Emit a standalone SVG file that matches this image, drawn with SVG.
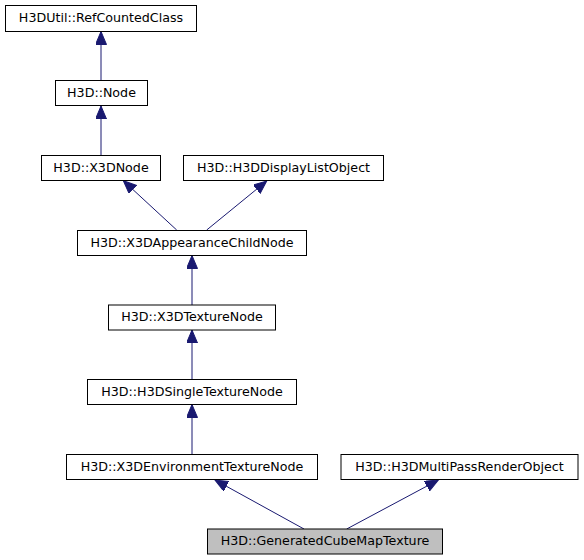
<svg xmlns="http://www.w3.org/2000/svg" width="584" height="560" viewBox="0 0 584 560">
<style>
.box{fill:#ffffff;stroke:#000000;stroke-width:1}
.cur{fill:#bfbfbf;stroke:#000000;stroke-width:1}
.lbl{font-family:"DejaVu Sans",sans-serif;font-size:12.67px;fill:#000000;text-anchor:middle}
.edge{stroke:#191970;stroke-width:1;fill:none}
</style>
<defs>
<marker id="ah" markerUnits="userSpaceOnUse" markerWidth="14" markerHeight="12" refX="13" refY="5.5" orient="auto">
<path d="M0,0 L13,5.5 L0,11 Z" fill="#191970" stroke="#191970" stroke-width="1"/>
</marker>
</defs>
<rect width="584" height="560" fill="#ffffff"/>
<g id="connectors">
<line class="edge" x1="101" y1="80.5" x2="101" y2="31.5" marker-end="url(#ah)"/>
<line class="edge" x1="101" y1="155.5" x2="101" y2="106" marker-end="url(#ah)"/>
<line class="edge" x1="176.7" y1="230" x2="123.3" y2="180.7" marker-end="url(#ah)"/>
<line class="edge" x1="206.7" y1="230" x2="266.7" y2="181" marker-end="url(#ah)"/>
<line class="edge" x1="192" y1="305" x2="192" y2="255.5" marker-end="url(#ah)"/>
<line class="edge" x1="192" y1="379.5" x2="192" y2="330" marker-end="url(#ah)"/>
<line class="edge" x1="192" y1="454.5" x2="192" y2="404.5" marker-end="url(#ah)"/>
<line class="edge" x1="304" y1="529" x2="215" y2="480" marker-end="url(#ah)"/>
<line class="edge" x1="346.7" y1="529" x2="438.3" y2="480" marker-end="url(#ah)"/>
</g>
<g id="n_refcounted">
<rect class="box" x="5.5" y="5.5" width="191" height="26"/>
<text class="lbl" x="101" y="22">H3DUtil::RefCountedClass</text>
</g>
<g id="n_node">
<rect class="box" x="55.5" y="80.5" width="92" height="25"/>
<text class="lbl" x="101.5" y="96.7">H3D::Node</text>
</g>
<g id="n_x3dnode">
<rect class="box" x="41.5" y="155.5" width="119" height="25"/>
<text class="lbl" x="101" y="171.7">H3D::X3DNode</text>
</g>
<g id="n_displaylist">
<rect class="box" x="183.5" y="155.5" width="200" height="25"/>
<text class="lbl" x="283.5" y="171.7">H3D::H3DDisplayListObject</text>
</g>
<g id="n_appearance">
<rect class="box" x="77.5" y="230.5" width="229" height="25"/>
<text class="lbl" x="192" y="246.7">H3D::X3DAppearanceChildNode</text>
</g>
<g id="n_texture">
<rect class="box" x="108.5" y="305" width="167" height="25"/>
<text class="lbl" x="192" y="321.2">H3D::X3DTextureNode</text>
</g>
<g id="n_single">
<rect class="box" x="87.5" y="379.5" width="209" height="25"/>
<text class="lbl" x="192" y="395.7">H3D::H3DSingleTextureNode</text>
</g>
<g id="n_environment">
<rect class="box" x="66.5" y="454.5" width="251" height="25"/>
<text class="lbl" x="192" y="470.7">H3D::X3DEnvironmentTextureNode</text>
</g>
<g id="n_multipass">
<rect class="box" x="341" y="454.5" width="237" height="25"/>
<text class="lbl" x="459.5" y="470.7">H3D::H3DMultiPassRenderObject</text>
</g>
<g id="n_generated">
<rect class="cur" x="207.5" y="529" width="235" height="25"/>
<text class="lbl" x="325" y="545.2">H3D::GeneratedCubeMapTexture</text>
</g>
</svg>
